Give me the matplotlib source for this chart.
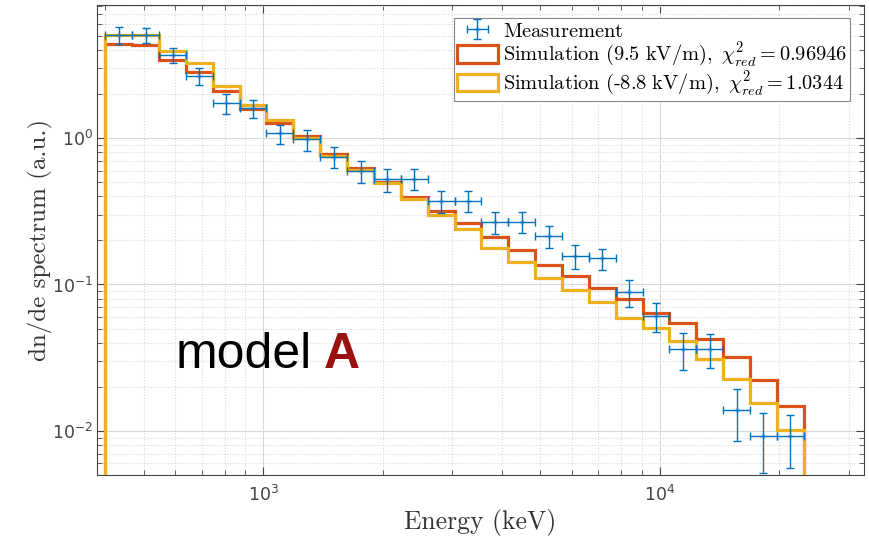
import matplotlib
matplotlib.use("Agg")
import matplotlib.pyplot as plt
import matplotlib.patches as mpatches
from matplotlib.font_manager import FontProperties
from matplotlib.ticker import LogLocator, NullFormatter
import numpy as np

# bin edges (keV)
edges = [400, 467.5, 546.4, 638.5, 746.3, 872.2, 1019, 1191, 1392, 1627, 1902,
         2222, 2597, 3036, 3548, 4146, 4846, 5663, 6618, 7735, 9040, 10565,
         12347, 14430, 16865, 19710, 23035]

# measurement
meas = [5.05, 5.05, 3.69, 2.65, 1.725, 1.595, 1.077, 0.98, 0.745, 0.595, 0.522,
        0.525, 0.373, 0.373, 0.268, 0.268, 0.214, 0.1565, 0.151, 0.0885, 0.0612,
        0.0361, 0.0362, 0.0139, 0.00924, 0.00924]
meas_err = [0.64, 0.62, 0.42, 0.35, 0.27, 0.23, 0.16, 0.16, 0.124, 0.10, 0.094,
            0.086, 0.064, 0.060, 0.047, 0.044, 0.036, 0.0285, 0.0245, 0.0187,
            0.014, 0.0102, 0.0094, 0.0053, 0.0041, 0.0037]

# simulation 9.5 kV/m
sim_pos = [4.36, 4.29, 3.41, 2.84, 2.09, 1.57, 1.266, 1.03, 0.784, 0.621, 0.503,
           0.394, 0.3176, 0.264, 0.212, 0.172, 0.1358, 0.1143, 0.0942, 0.0793,
           0.0642, 0.0543, 0.0425, 0.0321, 0.0223, 0.01489]
# simulation -8.8 kV/m
sim_neg = [5.05, 5.05, 3.94, 3.27, 2.275, 1.672, 1.327, 1.0, 0.754, 0.605, 0.491,
           0.382, 0.298, 0.238, 0.178, 0.143, 0.1102, 0.0917, 0.076, 0.0593,
           0.0502, 0.0413, 0.031, 0.02254, 0.0156, 0.01016]

labels = [r"$\mathrm{Measurement}$",
          r"$\mathrm{Simulation\ (9.5\ kV/m),\ }\chi^2_{red} = 0.96946$",
          r"$\mathrm{Simulation\ (}\text{-}\mathrm{8.8\ kV/m),\ }\chi^2_{red} = 1.0344$"]

c_meas = "#0072BD"
c_pos = "#D95319"
c_neg = "#EDB120"

plt.rcParams["axes.unicode_minus"] = False

e = np.array(edges)
xc = np.sqrt(e[:-1] * e[1:])
xerr = [xc - e[:-1], e[1:] - xc]

fig = plt.figure(figsize=(8.69, 5.4), dpi=100)
ax = fig.add_axes([97 / 869, 65 / 540, 767 / 869, 470 / 540])

ax.set_xscale("log")
ax.set_yscale("log")

ax.stairs(sim_pos, edges, baseline=1e-4, fill=False, color=c_pos, lw=2.3, zorder=3)
ax.stairs(sim_neg, edges, baseline=1e-4, fill=False, color=c_neg, lw=2.3, zorder=4)
eb = ax.errorbar(xc, meas, yerr=meas_err, xerr=xerr, fmt="+", ms=4, mew=1,
                 color=c_meas, elinewidth=1, capsize=3, capthick=1, zorder=5)

ax.set_xlim(381, 32700)
ax.set_ylim(0.005, 8.1)

ax.xaxis.set_minor_locator(LogLocator(base=10, subs=np.arange(2, 10)))
ax.yaxis.set_minor_locator(LogLocator(base=10, subs=np.arange(2, 10)))
ax.xaxis.set_minor_formatter(NullFormatter())
ax.yaxis.set_minor_formatter(NullFormatter())

ax.grid(True, which="major", color="#d9d9d9", lw=0.8)
ax.grid(True, which="minor", color="#d9d9d9", lw=0.8, ls=":")
ax.set_axisbelow(True)

ax.tick_params(which="both", direction="in", top=True, right=True,
               color="#444444", labelcolor="#444444", labelsize=12.5)
ax.tick_params(which="major", length=6, width=0.8)
ax.tick_params(which="minor", length=3.5, width=0.6)
ax.tick_params(axis="x", pad=7)
ax.tick_params(axis="y", pad=3)
for s in ax.spines.values():
    s.set_color("#444444")
    s.set_linewidth(0.8)

ax.set_xlabel("Energy (keV)", fontsize=18.5, family="cmr10", color="#333333")
ax.set_ylabel("dn/de spectrum (a.u.)", fontsize=18, family="cmr10",
              color="#333333")
ax.xaxis.set_label_coords(0.5, -0.072)
ax.yaxis.set_label_coords(-0.058, 0.5)

handles = [eb,
           mpatches.Patch(facecolor="none", edgecolor=c_pos, lw=2.3),
           mpatches.Patch(facecolor="none", edgecolor=c_neg, lw=2.3)]
leg = ax.legend(handles, labels, loc="upper right",
                bbox_to_anchor=(850 / 869, 1 - 18 / 540),
                bbox_transform=fig.transFigure, borderaxespad=0,
                prop=FontProperties(size=14.7, math_fontfamily="cm"),
                fancybox=False, framealpha=1, edgecolor="#888888",
                handlelength=2.0, handleheight=0.95, handletextpad=0.25,
                labelspacing=0.0, borderpad=0.15)
leg.get_frame().set_linewidth(0.8)

fig.text(176 / 869, 1 - 368 / 540, "model", fontsize=36, family="Liberation Sans",
         color="black", va="baseline", ha="left")
fig.text(324 / 869, 1 - 368 / 540, "A", fontsize=36, family="Liberation Sans",
         fontweight="bold", color="#9b1010", va="baseline", ha="left")

fig.savefig("out.png", dpi=100)
